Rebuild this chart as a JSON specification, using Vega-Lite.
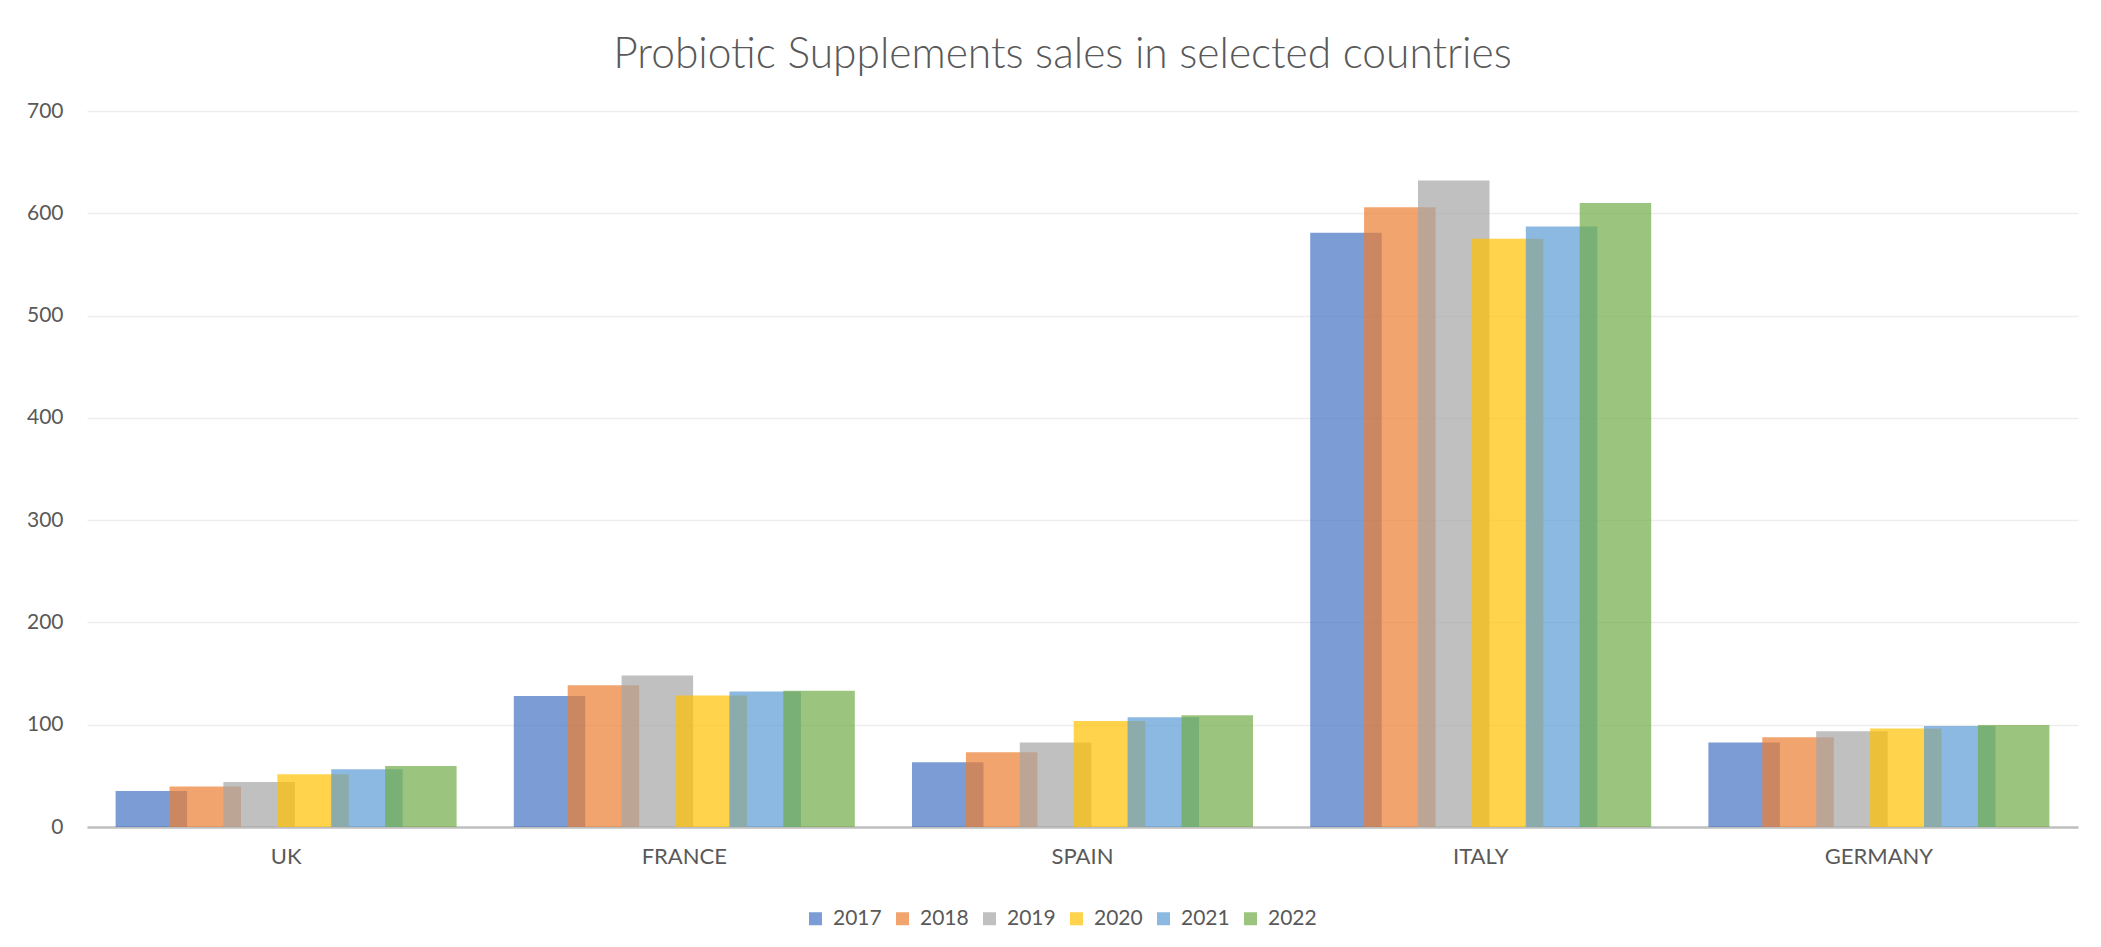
{
  "$schema": "https://vega.github.io/schema/vega-lite/v6.json",
  "width": 1991,
  "height": 716,
  "autosize": {"type": "none"},
  "padding": {"left": 87, "top": 111, "right": 23, "bottom": 120},
  "background": "white",
  "title": {
    "text": "Probiotic Supplements sales in selected countries",
    "font": "Lato",
    "fontWeight": 300,
    "fontSize": 42.5,
    "color": "#595959",
    "anchor": "middle",
    "frame": "group",
    "dx": -20,
    "offset": 24
  },
  "data": {
    "values": [
      {"country": "UK", "year": "2017", "sales": 35.2},
      {"country": "UK", "year": "2018", "sales": 39.5},
      {"country": "UK", "year": "2019", "sales": 44.0},
      {"country": "UK", "year": "2020", "sales": 51.5},
      {"country": "UK", "year": "2021", "sales": 56.4},
      {"country": "UK", "year": "2022", "sales": 59.6},
      {"country": "FRANCE", "year": "2017", "sales": 128.0},
      {"country": "FRANCE", "year": "2018", "sales": 138.5},
      {"country": "FRANCE", "year": "2019", "sales": 148.0},
      {"country": "FRANCE", "year": "2020", "sales": 128.5},
      {"country": "FRANCE", "year": "2021", "sales": 132.5},
      {"country": "FRANCE", "year": "2022", "sales": 133.3},
      {"country": "SPAIN", "year": "2017", "sales": 63.3},
      {"country": "SPAIN", "year": "2018", "sales": 73.0},
      {"country": "SPAIN", "year": "2019", "sales": 82.5},
      {"country": "SPAIN", "year": "2020", "sales": 103.6},
      {"country": "SPAIN", "year": "2021", "sales": 107.2},
      {"country": "SPAIN", "year": "2022", "sales": 109.2},
      {"country": "ITALY", "year": "2017", "sales": 581},
      {"country": "ITALY", "year": "2018", "sales": 606},
      {"country": "ITALY", "year": "2019", "sales": 632},
      {"country": "ITALY", "year": "2020", "sales": 575},
      {"country": "ITALY", "year": "2021", "sales": 587},
      {"country": "ITALY", "year": "2022", "sales": 610},
      {"country": "GERMANY", "year": "2017", "sales": 82.5},
      {"country": "GERMANY", "year": "2018", "sales": 87.7},
      {"country": "GERMANY", "year": "2019", "sales": 93.6},
      {"country": "GERMANY", "year": "2020", "sales": 96.2},
      {"country": "GERMANY", "year": "2021", "sales": 98.7},
      {"country": "GERMANY", "year": "2022", "sales": 99.7}
    ]
  },
  "mark": {"type": "bar", "opacity": 0.7, "width": 71.5},
  "encoding": {
    "x": {
      "field": "country",
      "type": "nominal",
      "sort": ["UK", "FRANCE", "SPAIN", "ITALY", "GERMANY"],
      "scale": {"paddingInner": 0.1878, "paddingOuter": 0.0939},
      "axis": {
        "title": null,
        "labelAngle": 0,
        "labelFont": "Lato",
        "labelFontSize": 22,
        "labelColor": "#595959",
        "labelPadding": 19,
        "ticks": false,
        "tickSize": 0,
        "domainColor": "#BFBFBF",
        "domainWidth": 2.5,
        "grid": false
      }
    },
    "xOffset": {
      "field": "year",
      "type": "nominal",
      "scale": {"paddingInner": 0, "paddingOuter": 0}
    },
    "y": {
      "field": "sales",
      "type": "quantitative",
      "scale": {"domain": [0, 700], "nice": false},
      "axis": {
        "title": null,
        "values": [0, 100, 200, 300, 400, 500, 600, 700],
        "labelFont": "Lato",
        "labelFontSize": 21,
        "labelColor": "#595959",
        "labelPadding": 24,
        "ticks": false,
        "tickSize": 0,
        "domain": false,
        "grid": true,
        "gridColor": "#EDEDED",
        "gridWidth": 1.5
      }
    },
    "color": {
      "field": "year",
      "type": "nominal",
      "scale": {
        "domain": ["2017", "2018", "2019", "2020", "2021", "2022"],
        "range": ["#4472C4", "#ED7D31", "#A5A5A5", "#FFC000", "#5B9BD5", "#70AD47"]
      },
      "legend": {
        "title": null,
        "orient": "none",
        "legendX": 718,
        "legendY": 797,
        "direction": "horizontal",
        "columns": 6,
        "symbolType": "square",
        "symbolSize": 169,
        "symbolStrokeWidth": 0,
        "labelFont": "Lato",
        "labelFontSize": 21,
        "labelColor": "#595959",
        "labelOffset": 7,
        "columnPadding": 10,
        "padding": 0
      }
    }
  },
  "config": {"view": {"stroke": null}}
}
